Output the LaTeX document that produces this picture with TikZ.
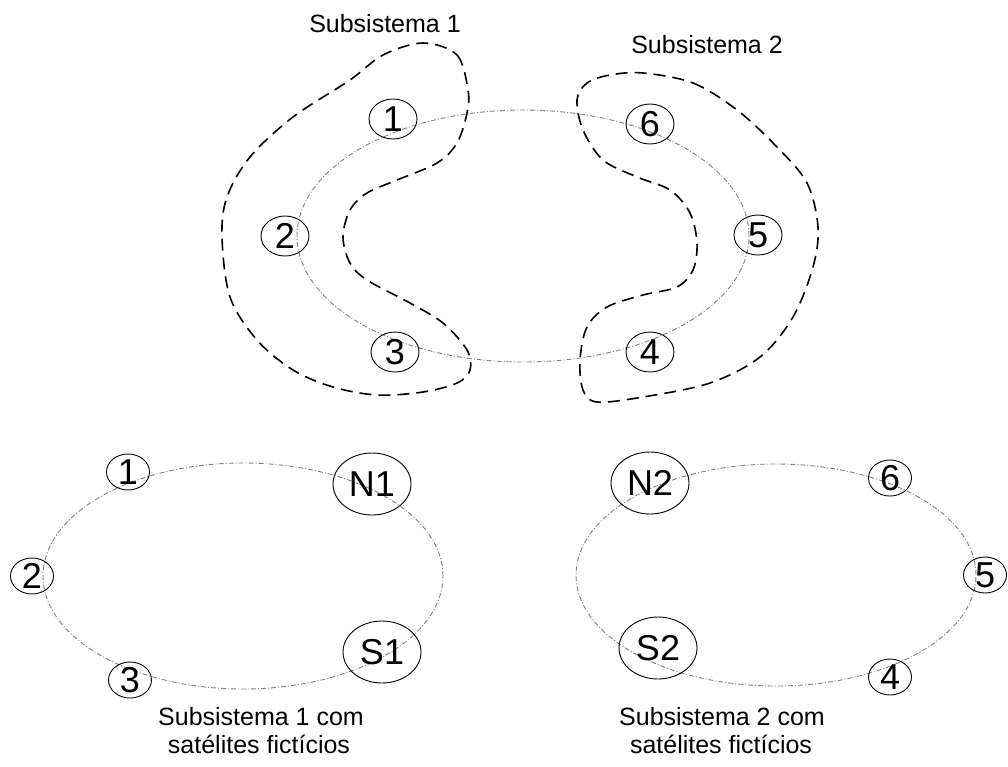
\documentclass[tikz,border=0pt]{standalone}
\usepackage{fontspec}
\setmainfont{Liberation Sans}
\usetikzlibrary{shapes.geometric}
\begin{document}
\begin{tikzpicture}[x=1pt,y=-1pt,
  ring/.style={draw=gray, line width=0.9pt, dash pattern=on 5pt off 2pt on 1pt off 2pt},
  blob/.style={draw=black, line width=1.6pt, dash pattern=on 12pt off 7pt},
  nd/.style={ellipse, draw, line width=0.9pt, minimum width=48pt, minimum height=40pt, inner sep=0pt, font=\fontsize{36}{36}\selectfont},
  sm/.style={nd, minimum width=43pt, minimum height=36pt},
  big/.style={nd, minimum width=78pt, minimum height=62pt},
  lbl/.style={inner sep=0pt, font=\fontsize{25}{28}\selectfont, anchor=base}
]
\useasboundingbox (0,0) rectangle (1008,766);

% ---- top ring ----
\draw[ring] (523,236) ellipse [x radius=226pt, y radius=126pt];
\node[nd] (a1) at (393,119) {1};
\node[nd] (a2) at (285,236) {2};
\node[nd] (a3) at (395,352) {3};
\node[nd] (a4) at (650,352) {4};
\node[nd] (a5) at (758,235) {5};
\node[nd] (a6) at (650,124) {6};

% subsystem 1 boundary
\draw[blob] plot[smooth cycle, tension=0.55] coordinates {
 (423,43) (457,55) (468,90) (467,113) (457,143) (437,163) (397,180) (367,193)
 (350,210) (343,237) (350,263) (367,280) (410,303) (443,323) (467,350) (470,370)
 (457,383) (423,392) (377,395) (333,387) (293,370) (257,340) (230,297) (222,237)
 (227,197) (250,157) (293,117) (350,80) (383,55)};
% subsystem 2 boundary
\draw[blob] plot[smooth cycle, tension=0.55] coordinates {
 (643,73) (693,83) (737,110) (777,147) (807,183) (818,227) (813,267) (793,317)
 (760,357) (710,383) (643,397) (597,402) (583,390) (580,360) (587,327) (607,307)
 (643,295) (677,287) (693,270) (697,243) (690,213) (670,190) (637,177) (603,160)
 (583,130) (577,100) (587,83) (610,75)};

\node[lbl] (t1) at (385,32) {Subsistema 1};
\node[lbl] (t2) at (707,53) {Subsistema 2};

% ---- bottom left ring ----
\draw[ring] (243,576) ellipse [x radius=200pt, y radius=113pt];
\node[sm] (b1) at (128,472) {1};
\node[sm] (b2) at (32,576) {2};
\node[sm] (b3) at (130,680) {3};
\node[big] (n1) at (372,484) {N1};
\node[big] (s1) at (382,652) {S1};
\node[lbl] (c1) at (261,725) {Subsistema 1 com};
\node[lbl] (c1b) at (259,753) {satélites fictícios};

% ---- bottom right ring ----
\draw[ring] (776,575) ellipse [x radius=200pt, y radius=111pt];
\node[big] (n2) at (650,483) {N2};
\node[big] (s2) at (658,648) {S2};
\node[sm] (d6) at (890,478) {6};
\node[sm] (d5) at (985,575) {5};
\node[sm] (d4) at (890,677) {4};
\node[lbl] (c2) at (722,725) {Subsistema 2 com};
\node[lbl] (c2b) at (721,753) {satélites fictícios};
\end{tikzpicture}
\end{document}
